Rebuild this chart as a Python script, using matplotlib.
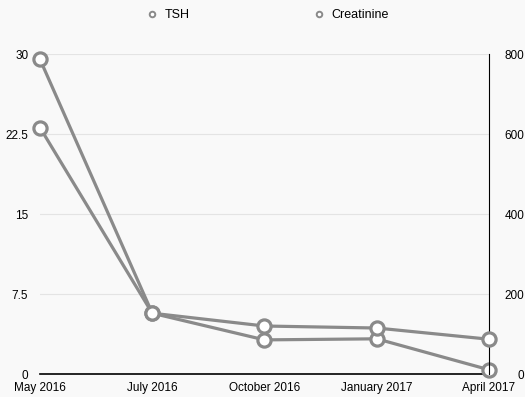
import matplotlib.pyplot as plt
from matplotlib.lines import Line2D

plt.rcParams['font.family'] = ['Liberation Sans', 'DejaVu Sans']

# visit dates and lab results
dates = ['May 2016', 'July 2016', 'October 2016', 'January 2017', 'April 2017']
tsh = [29.5, 5.7, 3.2, 3.3, 0.4]
creatinine = [616, 152, 120, 115, 87]

left_ticks = [0, 7.5, 15, 22.5, 30]
left_labels = ['0', '7.5', '15', '22.5', '30']
right_ticks = [0, 200, 400, 600, 800]

GREY = '#8a8a8a'
BG = '#f9f9f9'
FS = 8.5


def draw_series(ax, values):
    ax.plot(range(len(values)), values, color=GREY, lw=2.3,
            marker='o', ms=9.5, mfc='white', mec=GREY, mew=2.3,
            clip_on=False, zorder=3)


def main():
    fig = plt.figure(figsize=(5.25, 3.97), dpi=100, facecolor=BG)
    ax = fig.add_axes([0.0762, 0.0579, 0.8552, 0.806])
    ax.set_facecolor(BG)
    ax2 = ax.twinx()

    draw_series(ax, tsh)
    draw_series(ax2, creatinine)

    x = list(range(len(dates)))
    ax.set_xlim(0, len(dates) - 1)
    ax.set_xticks(x)
    ax.set_xticklabels(dates, fontsize=FS)
    ax.tick_params(axis='x', length=0, pad=5.5)

    ax.set_ylim(0, 30)
    ax.set_yticks(left_ticks)
    ax.set_yticklabels(left_labels, fontsize=FS)
    ax.tick_params(axis='y', length=0, pad=8.5)
    ax.grid(axis='y', color='#e4e4e4', lw=0.8)
    ax.set_axisbelow(True)

    ax2.set_ylim(0, 800)
    ax2.set_yticks(right_ticks)
    ax2.set_yticklabels([str(t) for t in right_ticks], fontsize=FS, ha='right')
    ax2.tick_params(axis='y', length=0, pad=25.5)

    for a in (ax, ax2):
        for side in ('left', 'top', 'right', 'bottom'):
            a.spines[side].set_visible(False)
    ax.spines['bottom'].set_visible(True)
    ax.spines['bottom'].set_color('black')
    ax.spines['bottom'].set_linewidth(1.2)
    ax2.spines['right'].set_visible(True)
    ax2.spines['right'].set_color('black')
    ax2.spines['right'].set_linewidth(0.8)

    # legend entries laid out separately across the top
    for name, xpos in [('TSH', 0.278), ('Creatinine', 0.595)]:
        handle = Line2D([], [], color=GREY, lw=0, marker='o', ms=4,
                        mfc='white', mec=GREY, mew=1.4)
        fig.legend([handle], [name], loc='center left', frameon=False,
                   bbox_to_anchor=(xpos, 0.962), fontsize=9,
                   handlelength=1.0, handletextpad=0.5,
                   borderpad=0, borderaxespad=0)

    fig.savefig('out.png', dpi=100, facecolor=BG)


if __name__ == '__main__':
    main()
